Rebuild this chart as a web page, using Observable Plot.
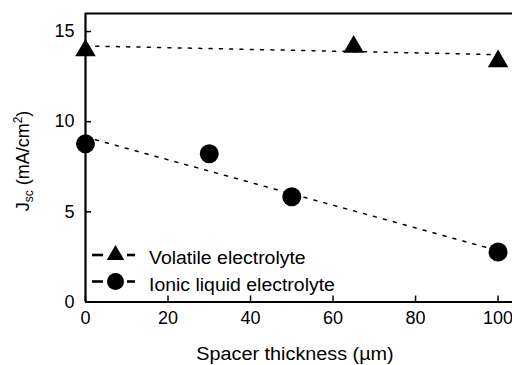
<!DOCTYPE html>
<html><head><meta charset="utf-8">
<script src="https://cdn.jsdelivr.net/npm/d3@7"></script>
<script src="https://cdn.jsdelivr.net/npm/@observablehq/plot@0.6"></script>
<style>body{margin:0;background:#fff;}</style>
</head><body><div id="chart"></div>
<script>
// ---- data ----
const volatileX = [0, 65, 100];
const volatileY = [13.95, 14.15, 13.35];
const ionicX = [0, 30, 50, 100];
const ionicY = [8.77, 8.22, 5.84, 2.77];
const volatileFitX = [0, 100];
const volatileFitY = [14.2, 13.72];
const ionicFitX = [0, 100];
const ionicFitY = [9.15, 2.85];
const xTicks = [0, 20, 40, 60, 80, 100];
const yTicks = [0, 5, 10, 15];
const seriesNames = ["Volatile electrolyte", "Ionic liquid electrolyte"];
const seriesSymbols = ["triangle", "circle"];
const xLabel = "Spacer thickness (µm)";
const yLabelParts = ["J", "sc", " (mA/cm", "2", ")"];

const font = "'Liberation Sans', Arial, Helvetica, sans-serif";
const vol = volatileX.map((x, i) => ({x, y: volatileY[i]}));
const ion = ionicX.map((x, i) => ({x, y: ionicY[i]}));
const volFit = volatileFitX.map((x, i) => ({x, y: volatileFitY[i]}));
const ionFit = ionicFitX.map((x, i) => ({x, y: ionicFitY[i]}));

const plot = Plot.plot({
  width: 512, height: 365,
  marginLeft: 85, marginRight: 0, marginTop: 13, marginBottom: 63.5,
  style: {fontFamily: font, fontSize: "18px", background: "#fff", color: "#000", overflow: "visible"},
  x: {domain: [0, 103.5]},
  y: {domain: [0, 16]},
  marks: [
    Plot.ruleY([16], {stroke: "#000", strokeWidth: 2}),
    Plot.axisX({ticks: xTicks, tickSize: -6, tickPadding: 15, fontSize: 18, label: null, strokeWidth: 1.5}),
    Plot.axisY({ticks: yTicks, tickSize: -6, tickPadding: 17, fontSize: 18, label: null, strokeWidth: 1.5}),
    Plot.ruleX([0], {stroke: "#000", strokeWidth: 2.2}),
    Plot.ruleY([0], {stroke: "#000", strokeWidth: 2.2}),
    Plot.line(volFit, {x: "x", y: "y", stroke: "#000", strokeWidth: 1.5, strokeDasharray: "3,7.3"}),
    Plot.line(ionFit, {x: "x", y: "y", stroke: "#000", strokeWidth: 1.5, strokeDasharray: "3,7.3"}),
    Plot.dot(vol, {x: "x", y: "y", symbol: "triangle", r: 7.6, fill: "#000", stroke: "none"}),
    Plot.dot(ion, {x: "x", y: "y", symbol: "circle", r: 9.5, fill: "#000", stroke: "none"}),
    Plot.text([xLabel], {text: d => d, frameAnchor: "bottom", lineAnchor: "top", dy: 45, dx: -4, fontSize: 18, fill: "#000"})
  ]
});
document.getElementById("chart").appendChild(plot);

const svg = d3.select(plot);
// y-axis title with subscript / superscript
const yl = svg.append("text")
  .attr("transform", "translate(29,161) rotate(-90)")
  .attr("text-anchor", "middle")
  .attr("font-family", font).attr("font-size", 18).attr("fill", "#000");
yl.append("tspan").text(yLabelParts[0]);
yl.append("tspan").attr("font-size", 12).attr("dy", 4).text(yLabelParts[1]);
yl.append("tspan").attr("dy", -4).text(yLabelParts[2]);
yl.append("tspan").attr("font-size", 12).attr("dy", -7).text(yLabelParts[3]);
yl.append("tspan").attr("dy", 7).text(yLabelParts[4]);

// legend
const lg = svg.append("g").attr("font-family", font).attr("font-size", 18).attr("text-anchor", "start");
const rowY = [255, 281.5];
const legendTexts = [];
seriesNames.forEach((name, i) => {
  const g = lg.append("g").attr("transform", `translate(0,${rowY[i]})`);
  g.append("line").attr("x1", 92).attr("x2", 103).attr("y1", 0).attr("y2", 0).attr("stroke", "#000").attr("stroke-width", 2.6);
  g.append("line").attr("x1", 127).attr("x2", 135).attr("y1", 0).attr("y2", 0).attr("stroke", "#000").attr("stroke-width", 2.6);
  const sym = seriesSymbols[i] === "triangle" ? d3.symbolTriangle : d3.symbolCircle;
  const r = seriesSymbols[i] === "triangle" ? 6.5 : 8.5;
  g.append("path").attr("transform", "translate(115.5,0)").attr("d", d3.symbol(sym, Math.PI * r * r)()).attr("fill", "#000");
  legendTexts.push(g.append("text").attr("x", 149).attr("y", 3.5).attr("dy", "0.32em").attr("fill", "#000").text(name).node());
});

// the reference's lettering is slightly wider than Liberation Sans: stretch horizontally
function stretch(node, k) {
  const len = node.getComputedTextLength();
  node.setAttribute("textLength", (len * k).toFixed(1));
  node.setAttribute("lengthAdjust", "spacingAndGlyphs");
}
legendTexts.forEach(n => stretch(n, 1.08));
svg.selectAll("text").filter(function() { return this.textContent === xLabel; }).each(function() { stretch(this, 1.1); });
</script>
</body></html>
